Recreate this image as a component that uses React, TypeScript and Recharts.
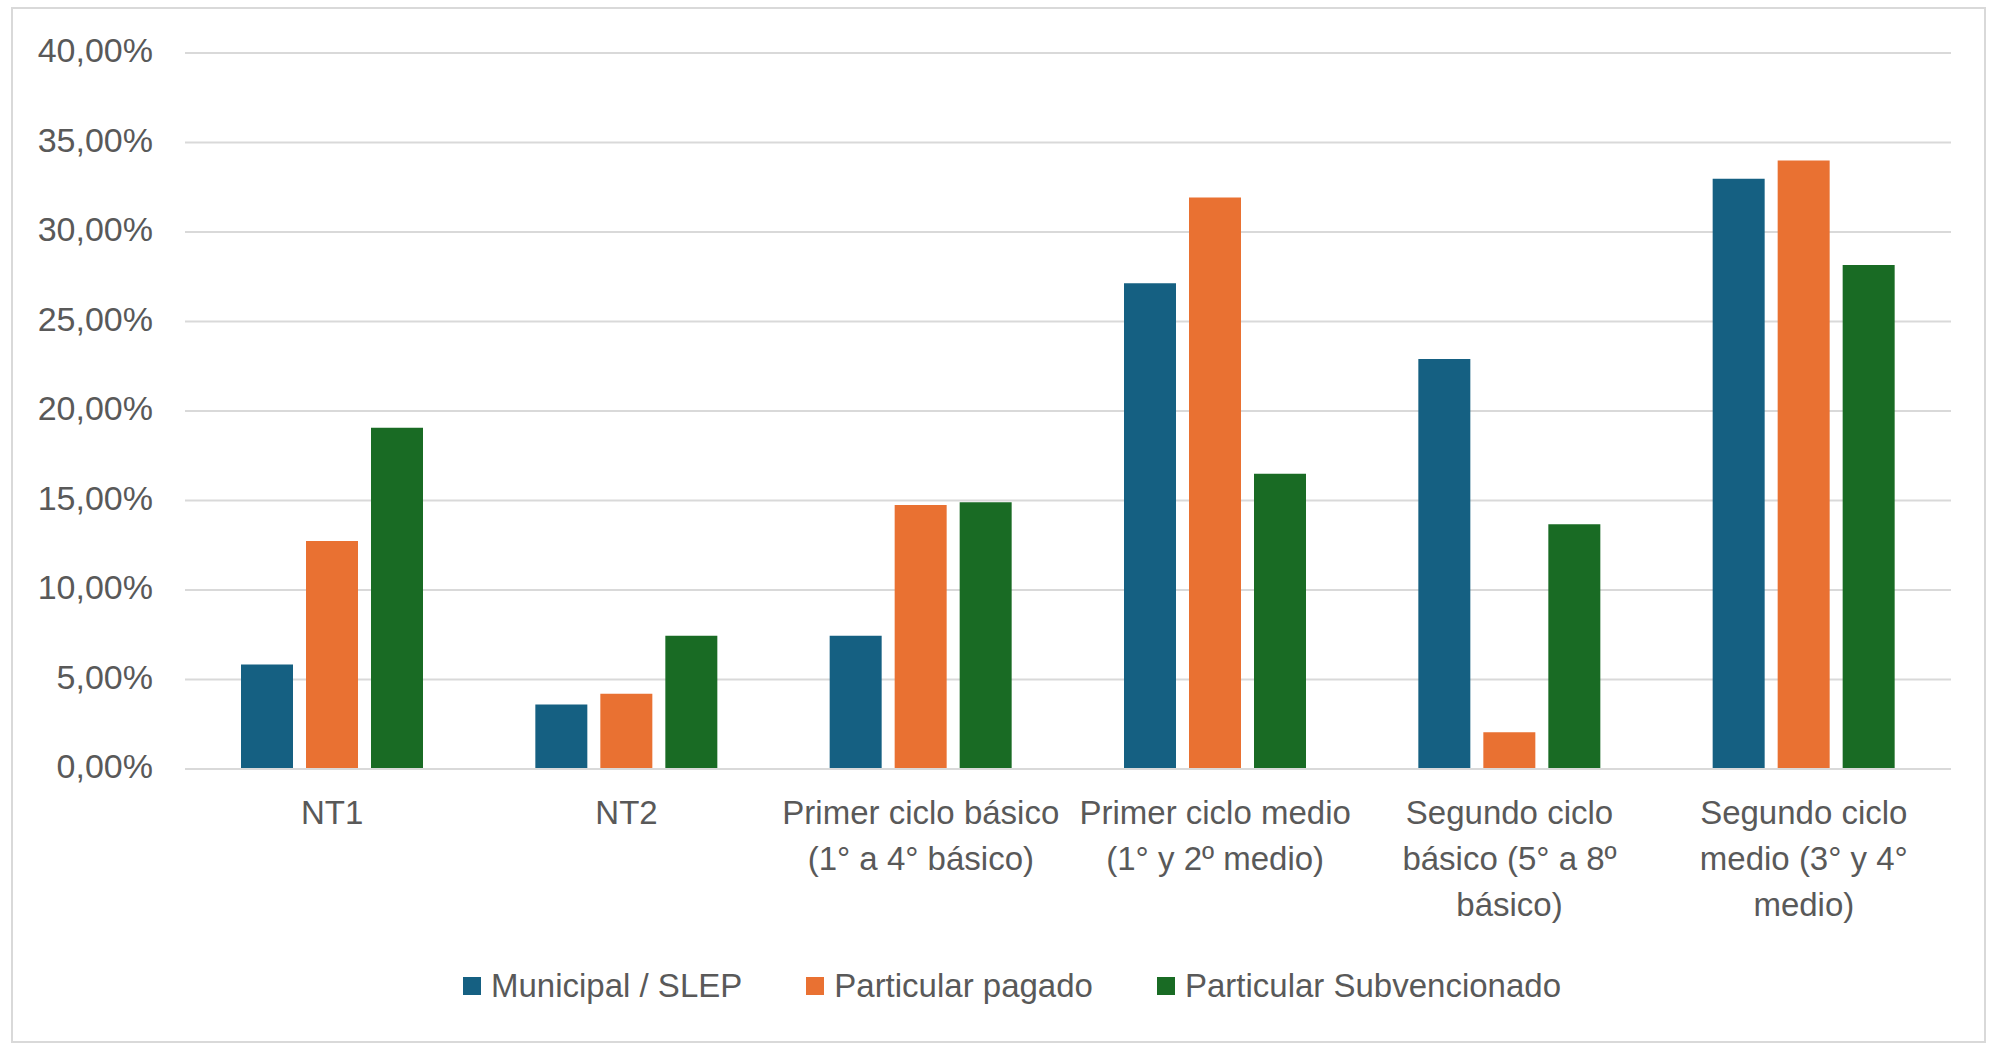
import React from 'react';
import { BarChart, Bar, XAxis, YAxis, CartesianGrid, Legend } from 'recharts';

// categories and their wrapped tick lines
const categories = [
  'NT1',
  'NT2',
  'Primer ciclo básico (1° a 4° básico)',
  'Primer ciclo medio (1° y 2º medio)',
  'Segundo ciclo básico (5° a 8º básico)',
  'Segundo ciclo medio (3° y 4° medio)',
];
const categoryLines = [
  ['NT1'],
  ['NT2'],
  ['Primer ciclo básico', '(1° a 4° básico)'],
  ['Primer ciclo medio', '(1° y 2º medio)'],
  ['Segundo ciclo', 'básico (5° a 8º', 'básico)'],
  ['Segundo ciclo', 'medio (3° y 4°', 'medio)'],
];

// values in %
const municipal = [5.84, 3.6, 7.45, 27.13, 22.9, 32.98];
const pagado = [12.74, 4.2, 14.75, 31.93, 2.05, 34.0];
const subvencionado = [19.07, 7.45, 14.9, 16.5, 13.67, 28.16];

const seriesNames = ['Municipal / SLEP', 'Particular pagado', 'Particular Subvencionado'];
const seriesColors = ['#156082', '#E97132', '#196B24'];
const yTicks = [0, 5, 10, 15, 20, 25, 30, 35, 40];

const FONT = '"Liberation Sans", Arial, sans-serif';
const TEXT = '#595959';

const data = categories.map((name, i) => ({
  name,
  municipal: municipal[i],
  pagado: pagado[i],
  subvencionado: subvencionado[i],
}));

const fmtPct = (v: number) => v.toFixed(2).replace('.', ',') + '%';

const CategoryTick = (props: any) => {
  const { x, y, payload } = props;
  const idx = categories.indexOf(payload.value);
  const lines = categoryLines[idx] || [payload.value];
  return (
    <g>
      {lines.map((line, i) => (
        <text
          key={i}
          x={x}
          y={y + 55 + i * 46}
          textAnchor="middle"
          fill={TEXT}
          fontSize={33}
          fontFamily={FONT}
        >
          {line}
        </text>
      ))}
    </g>
  );
};

const ValueTick = (props: any) => {
  const { x, y, payload } = props;
  return (
    <text x={x} y={y - 3} dy="0.355em" textAnchor="end" fill={TEXT} fontSize={34} fontFamily={FONT}>
      {fmtPct(payload.value)}
    </text>
  );
};

const LegendContent = () => (
  <div style={{ display: 'flex', justifyContent: 'center', alignItems: 'center', fontFamily: FONT }}>
    {seriesNames.map((name, i) => (
      <div key={name} style={{ display: 'flex', alignItems: 'center', marginLeft: i === 0 ? 0 : 64 }}>
        <span style={{ width: 18, height: 18, background: seriesColors[i], display: 'inline-block', marginRight: 10 }} />
        <span style={{ color: TEXT, fontSize: 33, lineHeight: '36px' }}>{name}</span>
      </div>
    ))}
  </div>
);

const App = () => {
  const keys = ['municipal', 'pagado', 'subvencionado'];
  return (
    <div style={{ position: 'absolute', left: 0, top: 0, width: 1990, height: 1047, background: '#fff' }}>
      <div
        style={{
          position: 'absolute',
          left: 11,
          top: 7,
          width: 1975,
          height: 1036,
          border: '2px solid #D9D9D9',
          boxSizing: 'border-box',
        }}
      />
      <BarChart
        width={1990}
        height={1047}
        data={data}
        margin={{ top: 53, right: 39, bottom: 108, left: 0 }}
        barCategoryGap={56}
        barGap={13}
      >
        <CartesianGrid vertical={false} stroke="#D9D9D9" strokeWidth={2} />
        <XAxis
          dataKey="name"
          height={170}
          axisLine={{ stroke: '#D9D9D9', strokeWidth: 2 }}
          tickLine={false}
          tickSize={0}
          tickMargin={0}
          interval={0}
          tick={<CategoryTick />}
        />
        <YAxis
          width={185}
          domain={[0, 40]}
          ticks={yTicks}
          axisLine={false}
          tickLine={false}
          tickSize={0}
          tickMargin={32}
          tick={<ValueTick />}
        />
        <Legend
          verticalAlign="middle"
          align="center"
          layout="horizontal"
          wrapperStyle={{ top: 968, left: 34, width: 1956 }}
          content={<LegendContent />}
        />
        {keys.map((k, i) => (
          <Bar key={k} dataKey={k} name={seriesNames[i]} fill={seriesColors[i]} isAnimationActive={false} />
        ))}
      </BarChart>
    </div>
  );
};

export default App;
